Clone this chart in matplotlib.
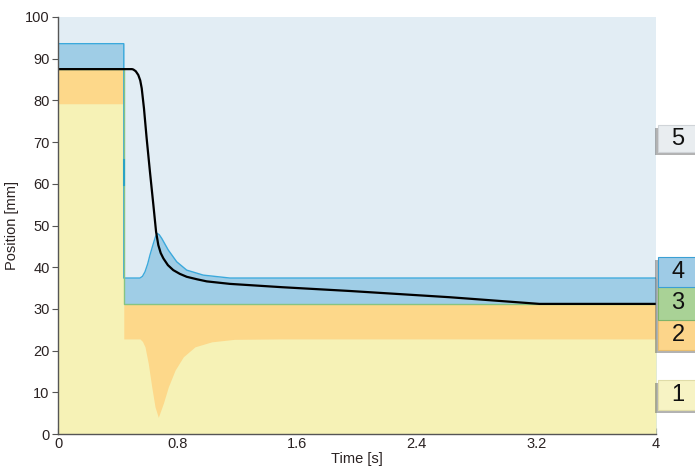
import matplotlib
matplotlib.use("Agg")
import matplotlib.pyplot as plt
import matplotlib.transforms as mtransforms
from matplotlib.patches import Rectangle

plt.rcParams['font.family'] = ['Liberation Sans', 'DejaVu Sans']

# ---- data ----
# top of layer 1 (yellow)
t1 = [0, 0.44, 0.44, 0.548, 0.565, 0.582, 0.604, 0.627, 0.649, 0.671, 0.705, 0.738, 0.783,
      0.838, 0.916, 1.028, 1.18, 1.5, 4]
v1 = [79.2, 79.2, 22.8, 22.8, 22.2, 20.9, 16.9, 11.3, 6.5, 4.0, 7.4, 11.3, 15.3,
      18.5, 20.9, 22.1, 22.7, 22.8, 22.8]
# top of layers 2/3 (orange)
t2 = [0, 0.44, 0.44, 4]
v2 = [87.5, 87.5, 31.1, 31.1]
# top of layer 4 (blue)
t4 = [0, 0.44, 0.44, 0.548, 0.565, 0.582, 0.6, 0.615, 0.638, 0.652, 0.664, 0.677, 0.694,
      0.738, 0.794, 0.861, 0.972, 1.15, 4]
v4 = [93.6, 93.6, 37.4, 37.4, 37.8, 38.9, 40.8, 42.9, 45.7, 47.3, 48.1, 47.8, 46.9,
      44.1, 41.3, 39.3, 38.1, 37.4, 37.4]
# measured position (black line)
tp = [0, 0.495, 0.504, 0.52, 0.537, 0.55, 0.56, 0.575, 0.593, 0.615, 0.638, 0.656, 0.671,
      0.687, 0.705, 0.735, 0.771, 0.815, 0.861, 0.93, 0.995, 1.15, 1.5, 1.95, 2.62, 3.22, 4]
vp = [87.5, 87.5, 87.4, 87.0, 86.1, 84.8, 82.9, 78.1, 70.9, 62.9, 54.9, 48.5, 45.3,
      43.4, 42.1, 40.5, 39.3, 38.4, 37.7, 37.1, 36.6, 36.0, 35.2, 34.3, 32.8, 31.2, 31.2]

zone_labels = ['1', '2', '3', '4', '5']
xticks = [0, 0.8, 1.6, 2.4, 3.2, 4]
xtick_labels = ['0', '0.8', '1.6', '2.4', '3.2', '4']
yticks = list(range(0, 101, 10))

# ---- styling ----
c_yellow = '#F6F2B6'
c_orange = '#FDD88A'
c_blue = '#9FCDE6'
c_light = '#E2EDF4'
c_green_line = '#86C483'
c_blue_line = '#3BA9DC'
txt = '#2a2222'

fig = plt.figure(figsize=(6.95, 4.68), dpi=100)
ax = fig.add_axes([58 / 695, 1 - 434 / 468, 598 / 695, 417 / 468])

ax.fill_between([0, 4], 0, 100, color=c_light, lw=0, zorder=1)
ax.fill_between(t4, 0, v4, color=c_blue, lw=0, zorder=2)
ax.fill_between(t2, 0, v2, color=c_orange, lw=0, zorder=3)
ax.fill_between(t1, 0, v1, color=c_yellow, lw=0, zorder=4)
ax.plot(t4, v4, color=c_blue_line, lw=1.0, zorder=5)
ax.plot(t2, v2, color=c_green_line, lw=1.0, zorder=5)
ax.plot([0.44, 0.44], [59.7, 65.7], color='#2BA3C4', lw=1.5, zorder=5)
ax.plot(tp, vp, color='black', lw=1.6, zorder=6, solid_joinstyle='round')

ax.set_xlim(0, 4)
ax.set_ylim(0, 100)
ax.set_xticks(xticks)
ax.set_xticklabels(xtick_labels)
ax.set_yticks(yticks)
for s in ['top', 'right']:
    ax.spines[s].set_visible(False)
for s in ['left', 'bottom']:
    ax.spines[s].set_color('#555555')
    ax.spines[s].set_linewidth(1.0)
    ax.spines[s].set_zorder(7)
ax.tick_params(axis='x', direction='in', length=4, color='#555555', labelsize=10.5,
               labelcolor=txt, pad=2)
ax.tick_params(axis='y', direction='out', length=4, color='#555555', labelsize=10.5,
               labelcolor=txt, pad=2)
ax.set_xlabel('Time [s]', fontsize=10.5, color=txt, labelpad=1)
ax.set_ylabel('Position [mm]', fontsize=10.5, color=txt, labelpad=4)

# ---- zone label boxes on the right ----
box_spans = [(5.8, 12.9), (20.1, 27.3), (27.3, 35.3), (35.3, 42.5), (67.6, 74.1)]
box_faces = ['#F7F3C4', '#FCD58A', '#A9D296', '#9ECBE6', '#E9EDF0']
box_edges = ['#E0DCA8', '#E8BE6E', '#7FB36A', '#3BA0D4', '#D0D4D8']
trans = mtransforms.blended_transform_factory(ax.transAxes, ax.transData)
shadow_trans = mtransforms.offset_copy(trans, fig=fig, x=-3, y=-3, units='dots')
for lab, (lo, hi), fc, ec in zip(zone_labels, box_spans, box_faces, box_edges):
    sh = Rectangle((1.003, lo), 0.08, hi - lo, transform=shadow_trans, facecolor='#555555',
                   alpha=0.45, edgecolor='none', clip_on=False, zorder=8)
    ax.add_patch(sh)
    r = Rectangle((1.003, lo), 0.08, hi - lo, transform=trans, facecolor=fc,
                  edgecolor=ec, lw=0.8, clip_on=False, zorder=9)
    ax.add_patch(r)
    ax.text(1.037, (lo + hi) / 2, lab, transform=trans, ha='center', va='center',
            fontsize=17, color='#111111', zorder=10, clip_on=False)

fig.savefig('out.png', dpi=100)
